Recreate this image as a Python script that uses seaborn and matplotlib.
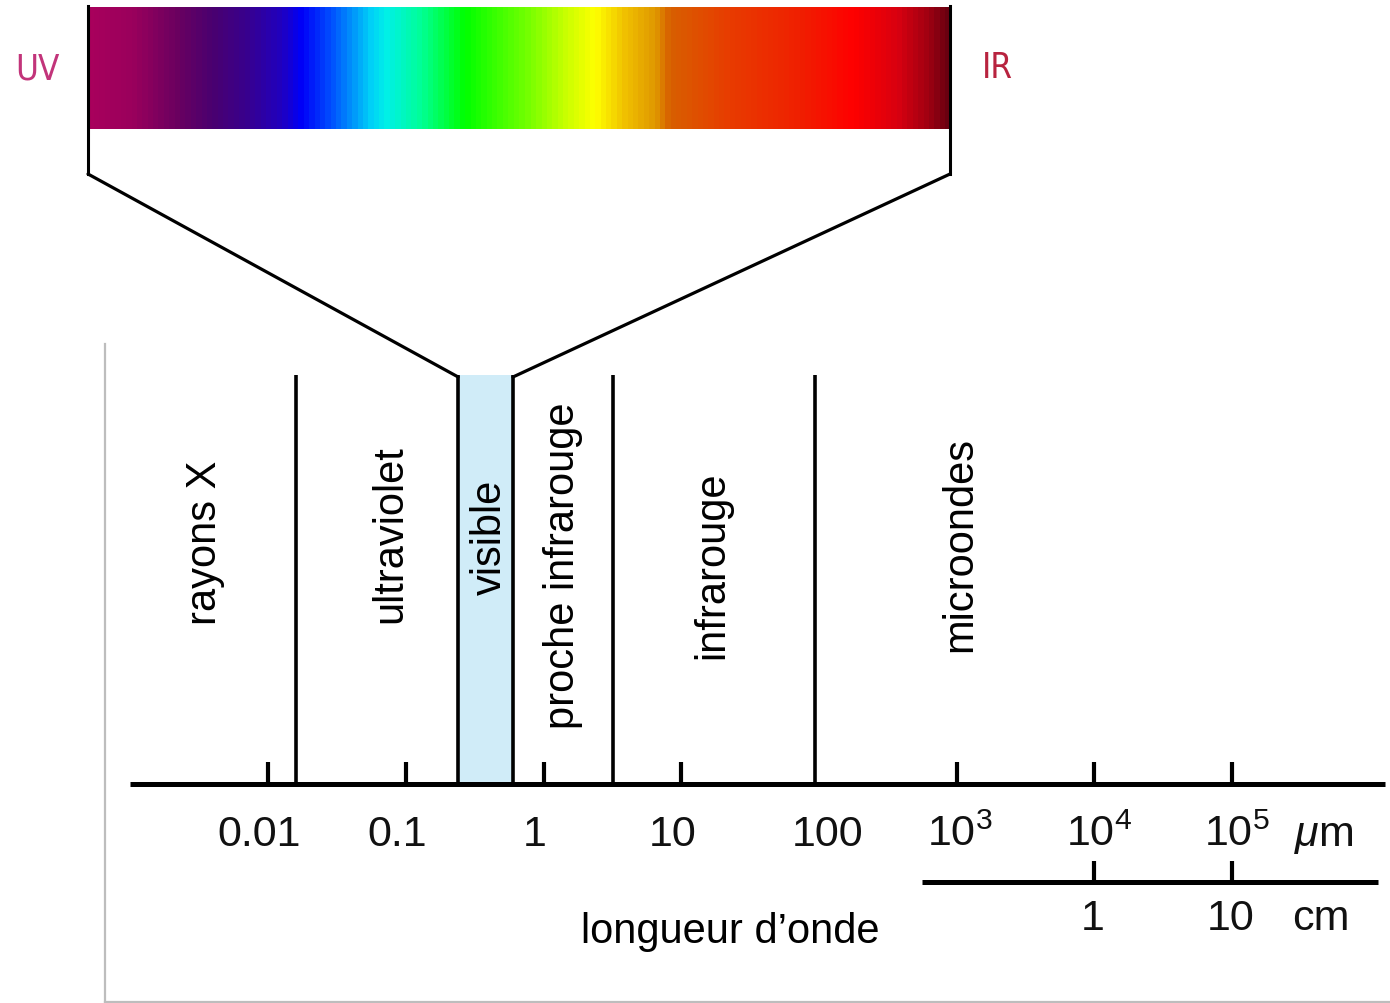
import numpy as np
import matplotlib
matplotlib.use("Agg")
import matplotlib.pyplot as plt
from matplotlib.colors import LinearSegmentedColormap
from matplotlib.patches import ConnectionPatch
import seaborn as sns

# --- données (longueurs d'onde en micromètres) ---
boundaries_um = [0.016, 0.24, 0.6, 3.2, 94]
region_names = ["rayons X", "ultraviolet", "visible", "proche infrarouge", "infrarouge", "microondes"]
region_label_um = [0.0035, 0.077, 0.41, 1.39, 16.7, 1060]
region_label_row = [543, 534, 537, 566, 565, 545]

tick_um = [0.01, 0.1, 1, 10, 100, 1e3, 1e4, 1e5]
tick_labels = ["0.01", "0.1", "1", "10", "100", r"$10^3$", r"$10^4$", r"$10^5$"]
tick_marked = [True, True, True, True, False, True, True, True]
axis_span_um = [1e-3, 1.29e6]

cm_ticks = [1, 10]
cm_labels = ["1", "10"]
cm_span_um = [560, 1.15e6]

# couleurs du spectre visible (position relative, couleur)
spectrum_stops = [0.0, 0.049, 0.101, 0.142, 0.182, 0.223, 0.246, 0.281, 0.327, 0.345,
                  0.385, 0.437, 0.507, 0.553, 0.588, 0.623, 0.658, 0.675, 0.745, 0.826,
                  0.890, 0.942, 0.977, 1.0]
spectrum_colors = ["#a8005c", "#9a005c", "#6a0060", "#4a0070", "#38008e", "#2000c0", "#0000f8",
                   "#0050ff", "#00d0f8", "#00f0e8", "#00ff98", "#00ff00", "#70ff00", "#c8ff00",
                   "#ffff00", "#f0c000", "#e09800", "#d86000", "#e83c00", "#f02000", "#ff0000",
                   "#d80010", "#a00012", "#6a0010"]

# --- mise en page (lignes en pixels depuis le haut) ---
W, H = 1390, 1004
BAND_TOP = 376
AXIS_ROW = 785
TICK_TOP = 763
LABEL_BASE = 846
CM_ROW = 883
CM_TICK_TOP = 862
CM_LABEL_BASE = 930
TITLE_BASE = 943
x_px0, x_px_per_decade = 543.5, 137.67   # 1 µm -> pixel 543.5
label_dx_pt = [-6.5, -6.5, -6.5, -6.5, 6, 2.5, 3.5, 3.5]

sns.set_theme(style="white")
plt.rcParams['font.family'] = ['Liberation Sans', 'DejaVu Sans']
plt.rcParams['mathtext.fontset'] = 'custom'
plt.rcParams['mathtext.rm'] = 'Liberation Sans'
plt.rcParams['mathtext.it'] = 'Liberation Sans:italic'

fig = plt.figure(figsize=(W / 100, H / 100), dpi=100)
fig.patch.set_facecolor('white')

# axe principal : x logarithmique, y en lignes de pixels
ax_left, ax_top, ax_bottom = 105, 345, 1003
ax = fig.add_axes([ax_left / W, (H - ax_bottom) / H, (W - ax_left) / W, (ax_bottom - ax_top) / H])
ax.set_xscale('log')
ax.set_xlim(10 ** ((ax_left - x_px0) / x_px_per_decade), 10 ** ((W - x_px0) / x_px_per_decade))
ax.set_ylim(ax_bottom, ax_top)
ax.set_facecolor('none')
ax.set_xticks([])
ax.set_xticks([], minor=True)
ax.set_yticks([])
sns.despine(ax=ax)
for side in ['left', 'bottom']:
    ax.spines[side].set_color('#bdbdbd')
    ax.spines[side].set_linewidth(1.6)

# bande du visible
ax.fill_betweenx([BAND_TOP, AXIS_ROW], boundaries_um[1], boundaries_um[2], color='#d0ecf8', lw=0)
# limites des domaines
ax.vlines(boundaries_um, BAND_TOP, AXIS_ROW, color='black', lw=2.6)

# axe des longueurs d'onde (µm)
ax.hlines(AXIS_ROW, axis_span_um[0], axis_span_um[1], color='black', lw=3.6)
ax.vlines([t for t, m in zip(tick_um, tick_marked) if m], TICK_TOP, AXIS_ROW, color='black', lw=3)
for t, lab, dx in zip(tick_um, tick_labels, label_dx_pt):
    ax.annotate(lab, (t, LABEL_BASE), xytext=(dx, 0), textcoords='offset points',
                ha='center', va='baseline', fontsize=31, color='#111111')
ax.annotate(r"$\mu$m", (tick_um[-1], LABEL_BASE), xytext=(66, 0), textcoords='offset points',
            ha='center', va='baseline', fontsize=31, color='#111111')

# axe secondaire en cm
ax.hlines(CM_ROW, cm_span_um[0], cm_span_um[1], color='black', lw=3.6)
cm_in_um = [c * 1e4 for c in cm_ticks]
ax.vlines(cm_in_um, CM_TICK_TOP, CM_ROW, color='black', lw=3)
for t, lab in zip(cm_in_um, cm_labels):
    ax.annotate(lab, (t, CM_LABEL_BASE), xytext=(-1, 0), textcoords='offset points',
                ha='center', va='baseline', fontsize=31, color='#111111')
ax.annotate("cm", (cm_in_um[-1], CM_LABEL_BASE), xytext=(64, 0), textcoords='offset points',
            ha='center', va='baseline', fontsize=31, color='#111111')

ax.text(10 ** ((730 - x_px0) / x_px_per_decade), TITLE_BASE, "longueur d\u2019onde",
        ha='center', va='baseline', fontsize=30, color='black')

# noms des domaines
for x, row, name in zip(region_label_um, region_label_row, region_names):
    ax.text(x, row, name, rotation=90, ha='center', va='center', fontsize=30, color='black')

# barre du spectre visible
cmap = LinearSegmentedColormap.from_list("spectre", list(zip(spectrum_stops, spectrum_colors)), N=160)
bar_left, bar_right, bar_top, bar_img_bottom, bar_bottom = 88, 950, 7, 130, 175
bar_ax = fig.add_axes([bar_left / W, (H - bar_bottom) / H, (bar_right - bar_left) / W,
                       (bar_bottom - bar_top) / H])
gradient = np.linspace(0, 1, 862)[None, :]
img_y0 = (bar_bottom - bar_img_bottom) / (bar_bottom - bar_top)
bar_ax.imshow(gradient, extent=[0, 1, img_y0, 1 - 1 / (bar_bottom - bar_top)], aspect='auto',
              cmap=cmap, interpolation='nearest')
bar_ax.set_xlim(0, 1)
bar_ax.set_ylim(0, 1)
bar_ax.set_xticks([])
bar_ax.set_yticks([])
bar_ax.set_facecolor('none')
for side in ['top', 'bottom']:
    bar_ax.spines[side].set_visible(False)
for side in ['left', 'right']:
    bar_ax.spines[side].set_color('black')
    bar_ax.spines[side].set_linewidth(2.2)

# liaisons entre la barre et la bande du visible
for xa, xb in [(0, boundaries_um[1]), (1, boundaries_um[2])]:
    con = ConnectionPatch(xyA=(xa, 0), coordsA="axes fraction", axesA=bar_ax,
                          xyB=(xb, BAND_TOP + 2), coordsB="data", axesB=ax,
                          color='black', lw=2.3)
    fig.add_artist(con)

fig.text(37 / W, 1 - 70 / H, "UV", ha='center', va='center', fontsize=25,
         color='#c2347a', family='DejaVu Sans', fontstretch='condensed')
fig.text(997 / W, 1 - 68 / H, "IR", ha='center', va='center', fontsize=25,
         color='#b8233f', family='DejaVu Sans', fontstretch='condensed')

fig.savefig("out.png", dpi=100)
